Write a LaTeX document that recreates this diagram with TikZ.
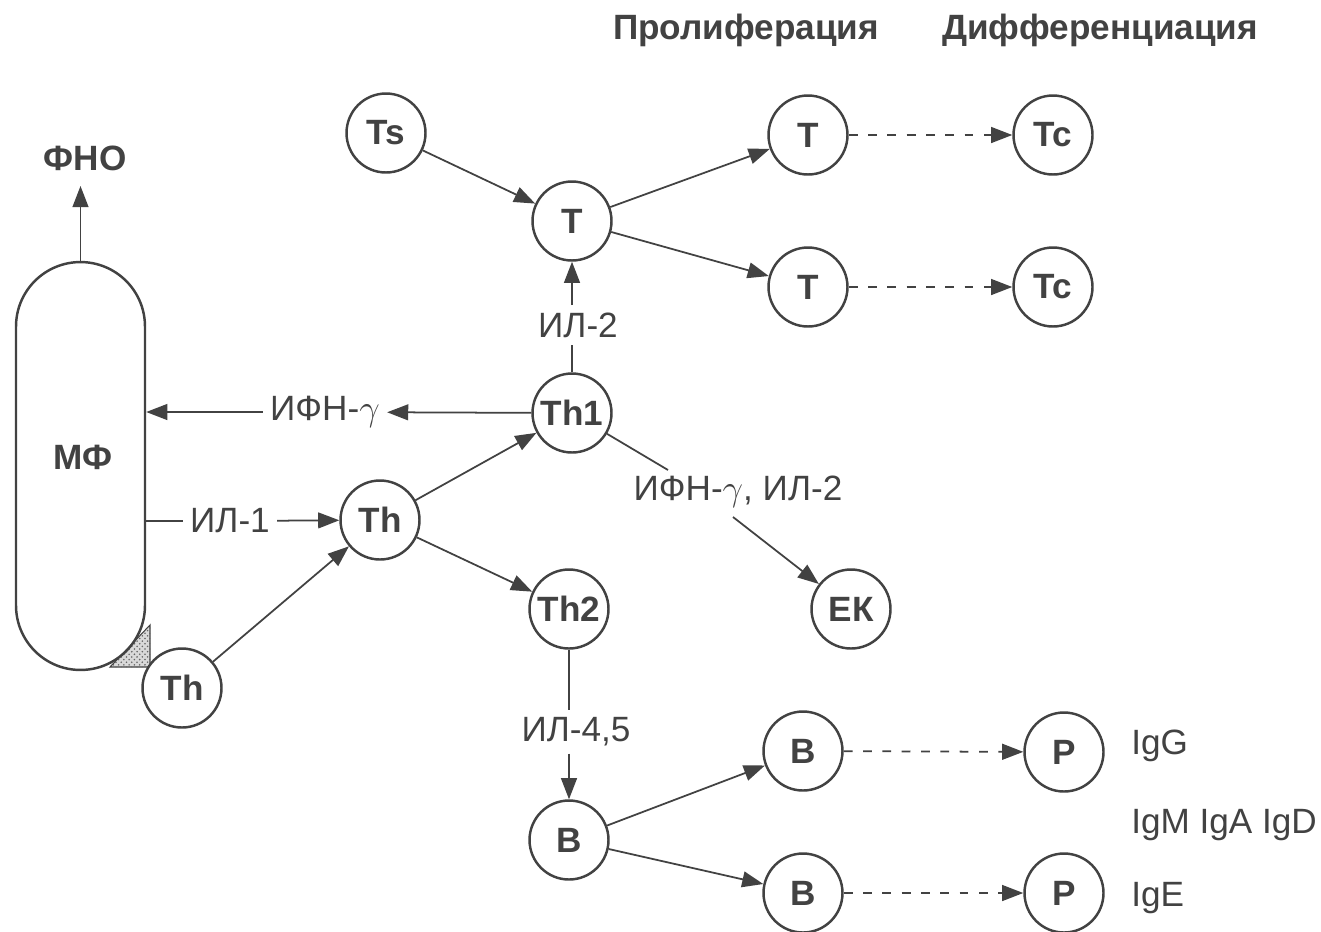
\documentclass[tikz,border=0pt]{standalone}
\usepackage{fontspec}
\setmainfont{Liberation Sans}
\usetikzlibrary{arrows.meta,patterns,calc}
\definecolor{ink}{RGB}{66,66,66}
\newcommand{\gam}{\ensuremath{\gamma}}
\begin{document}
\begin{tikzpicture}[x=0.02cm,y=-0.02cm,
 cell/.style={circle,draw=ink,fill=white,line width=1.4pt,minimum size=1.58cm,inner sep=0pt,font=\fontsize{20}{22}\selectfont\bfseries,text=ink},
 lbl/.style={font=\fontsize{20}{22}\selectfont,text=ink,inner sep=4pt},
 hdr/.style={font=\fontsize{20}{22}\selectfont\bfseries,text=ink,inner sep=0pt},
 arr/.style={draw=ink,line width=1pt,-{Triangle[length=12pt,width=9pt]}},
 ln/.style={draw=ink,line width=1pt},
 darr/.style={arr,dash pattern=on 5pt off 6pt}]
\useasboundingbox (0,0) rectangle (1321,931);
\fill[white] (0,0) rectangle (1321,931);

% macrophage
\fill[gray!30] (110,667) -- (150,667) -- (150,625) -- cycle;
\fill[pattern=crosshatch dots,pattern color=gray!80!black] (110,667) -- (150,667) -- (150,625) -- cycle;
\draw[draw=ink,line width=0.6pt] (110,667) -- (150,667) -- (150,625) -- cycle;
\node (mf) [draw=ink,line width=1.4pt,rounded corners=1.29cm,minimum width=2.58cm,minimum height=8.16cm,inner sep=0pt] at (80.5,466) {};
\node (mfl) [hdr] at (83,457) {МФ};
\node (fno) [hdr] at (85,158) {ФНО};
\coordinate (fnotip) at (80.5,186);

% headers
\node (prol) [hdr] at (746,30) {Пролиферация};
\node (diff) [hdr] at (1100,30) {Дифференциация};

% cells
\node (Ts) [cell] at (386,133) {Ts};
\node (T0) [cell] at (572,221) {T};
\node (T1) [cell] at (808,135) {T};
\node (Tc1) [cell] at (1053,135) {Tc};
\node (T2) [cell] at (808,287) {T};
\node (Tc2) [cell] at (1053,287) {Tc};
\node (Th1) [cell] at (572,413) {Th1};
\node (Th) [cell] at (380,520) {Th};
\node (Th2) [cell] at (569,609) {Th2};
\node (EK) [cell] at (851,609) {ЕК};
\node (Thb) [cell] at (182,688) {Th};
\node (B0) [cell] at (569,840) {B};
\node (B1) [cell] at (803,751) {B};
\node (P1) [cell] at (1064,752) {P};
\node (B2) [cell] at (803,893) {B};
\node (P2) [cell] at (1064,893) {P};

% labels
\node (il1) [lbl] at (230,521) {ИЛ-1};
\node (ifn1) [lbl] at (325,412) {ИФН-\gam};
\node (il2) [lbl] at (578,325) {ИЛ-2};
\node (ifn2) [lbl] at (738,492) {ИФН-\gam, ИЛ-2};
\node (il45) [lbl] at (576,732) {ИЛ-4,5};
\node (igg) [lbl,anchor=west,inner sep=0pt] at (1131,746) {IgG};
\node (igm) [lbl,anchor=west,inner sep=0pt] at (1131,825) {IgM IgA IgD};
\node (ige) [lbl,anchor=west,inner sep=0pt] at (1131,898) {IgE};
\coordinate (a1) at (668,470);
\coordinate (a2) at (733,517);

% connectors
\draw[arr] (mf.north) -- (fnotip);
\draw[arr] (Ts) -- (T0);
\draw[arr] (T0) -- (T1);
\draw[arr] (T0) -- (T2);
\draw[darr] (T1) -- (Tc1);
\draw[darr] (T2) -- (Tc2);
\draw[ln] (Th1) -- (Th1 |- il2.south);
\draw[arr] (Th1 |- il2.north) -- (T0);
\draw[arr] (Th1) -- (ifn1);
\draw[arr] (ifn1) -- (mf.east |- ifn1);
\draw[ln] (mf.east |- il1) -- (il1);
\draw[arr] (il1) -- (Th);
\draw[arr] (Thb) -- (Th);
\draw[arr] (Th) -- (Th1);
\draw[arr] (Th) -- (Th2);
\draw[ln] (Th1) -- (a1);
\draw[arr] (a2) -- (EK);
\draw[ln] (Th2) -- (Th2 |- il45.north);
\draw[arr] (Th2 |- il45.south) -- (B0);
\draw[arr] (B0) -- (B1);
\draw[arr] (B0) -- (B2);
\draw[darr] (B1) -- (P1);
\draw[darr] (B2) -- (P2);
\end{tikzpicture}
\end{document}
